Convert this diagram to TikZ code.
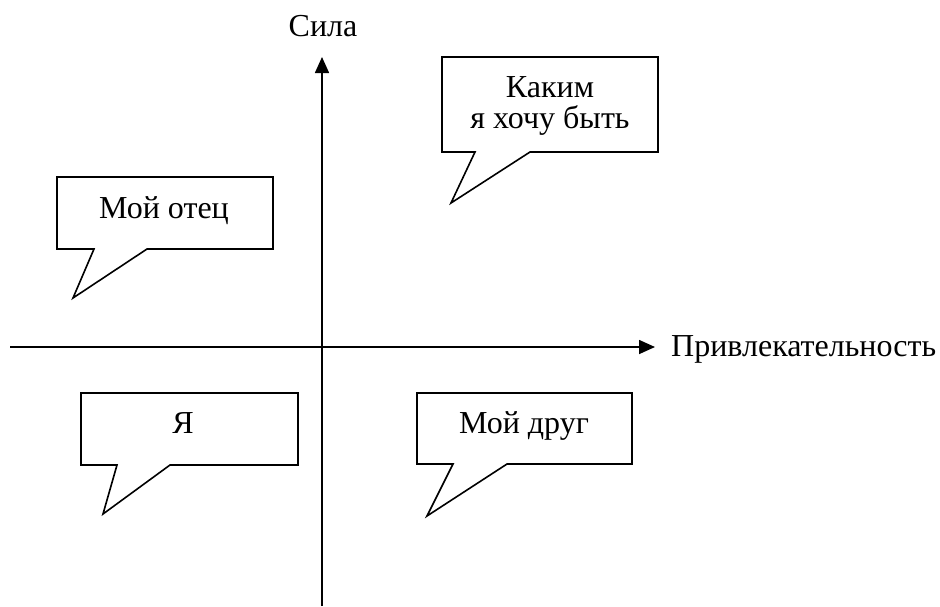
\documentclass[tikz,border=0pt]{standalone}
\usepackage{fontspec}
\setmainfont{Liberation Serif}
\usetikzlibrary{arrows.meta}

\begin{document}
\begin{tikzpicture}[x=1pt,y=-1pt,
        axis/.style={line width=1.6pt,-{Triangle[length=16pt,width=14pt]}},
        bubble/.style={line width=1.6pt,line join=miter},
        lbl/.style={font=\fontsize{32}{31}\selectfont,inner sep=0pt,align=center}]
        \useasboundingbox (0,0) rectangle (940,606);
        % axes
        \coordinate (xs) at (10,347);
        \coordinate (xe) at (655,347);
        \coordinate (ys) at (322,606);
        \coordinate (ye) at (322,57);
        \draw[axis] (xs) -- (xe);
        \draw[axis] (ys) -- (ye);
        \node[lbl,anchor=base west] (attr) at (671,356) {Привлекательность};
        \node[lbl,anchor=base] (force) at (323,36) {Сила};
        % speech bubbles
        \draw[bubble] (442,57) -- (658,57) -- (658,152) -- (530,152) -- (451,203) -- (475,152) -- (442,152) -- cycle;
        \node[lbl,anchor=base] (ideal) at (550,128) {Каким\\я хочу быть};
        \draw[bubble] (57,177) -- (273,177) -- (273,249) -- (147,249) -- (73,298) -- (94,249) -- (57,249) -- cycle;
        \node[lbl,anchor=base] (father) at (164,218) {Мой отец};
        \draw[bubble] (81,393) -- (298,393) -- (298,465) -- (170,465) -- (103,514) -- (117,465) -- (81,465) -- cycle;
        \node[lbl,anchor=base] (self) at (183,433) {Я};
        \draw[bubble] (417,393) -- (632,393) -- (632,464) -- (507,464) -- (427,516) -- (453,464) -- (417,464) -- cycle;
        \node[lbl,anchor=base] (friend) at (524,433) {Мой друг};
\end{tikzpicture}
\end{document}
